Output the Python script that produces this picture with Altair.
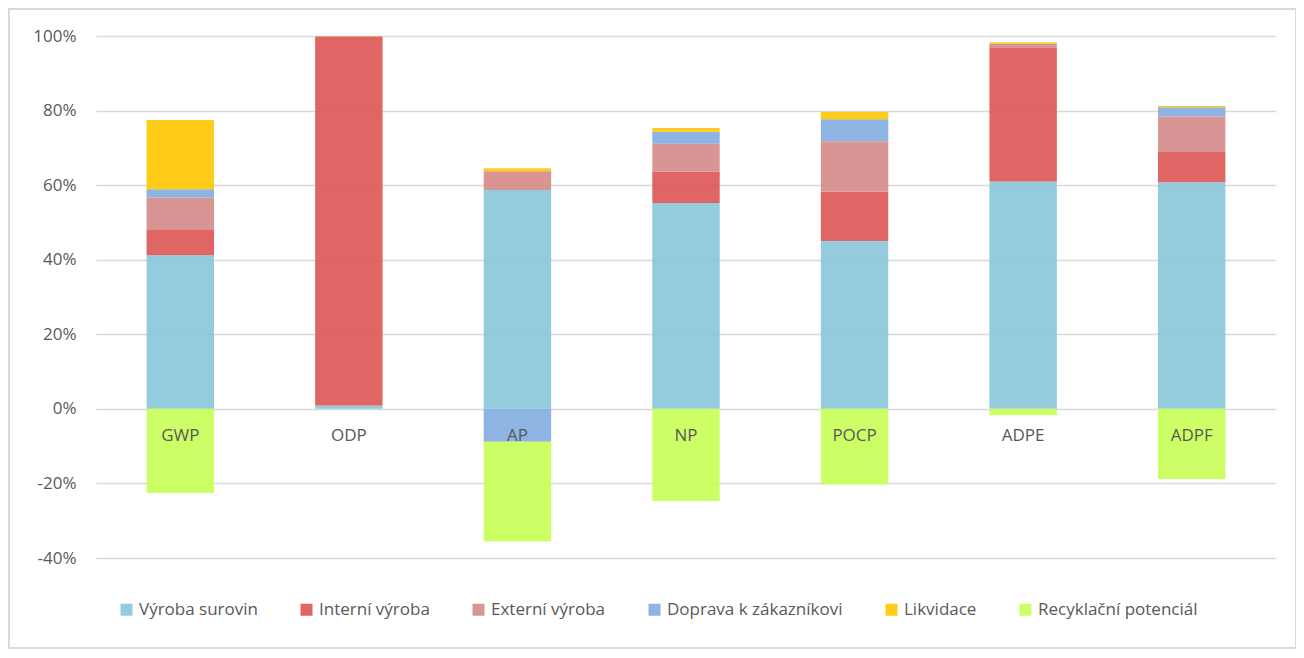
import altair as alt
import pandas as pd

categories = ["GWP", "ODP", "AP", "NP", "POCP", "ADPE", "ADPF"]
series = ["Výroba surovin", "Interní výroba", "Externí výroba",
          "Doprava k zákazníkovi", "Likvidace", "Recyklační potenciál"]
vyroba = [41.2, 0.9, 58.7, 55.2, 45.0, 61.0, 60.8]
interni = [7.0, 98.9, 0.0, 8.4, 13.2, 35.8, 8.1]
externi = [8.5, 0.1, 5.0, 7.5, 13.6, 1.2, 9.5]
doprava = [2.2, 0.0, -8.8, 3.2, 5.9, 0.0, 2.5]
likvidace = [18.6, 0.1, 0.8, 1.0, 1.9, 0.3, 0.3]
recykl = [-22.6, 0.0, -26.8, -24.7, -20.3, -1.7, -18.8]
colors = ["#88C7D9", "#DD5555", "#D58A88", "#81ACE0", "#FFC800", "#C6FF55"]

all_series = [vyroba, interni, externi, doprava, likvidace, recykl]
rows = []
for si, (name, vals) in enumerate(zip(series, all_series)):
    for cat, v in zip(categories, vals):
        rows.append({"cat": cat, "series": name, "idx": si, "value": v / 100.0})
df = pd.DataFrame(rows)
cat_df = pd.DataFrame({"cat": categories})

W, H = 1180, 522
FONT = "Open Sans"
GREY = "#595959"
FS = 17

xscale = alt.Scale(domain=categories, paddingInner=0.6, paddingOuter=0.3)
yscale = alt.Scale(domain=[-0.4, 1.0], nice=False)

bars = alt.Chart(df).mark_bar(opacity=0.9).encode(
    x=alt.X("cat:N", scale=xscale, axis=None, sort=categories),
    y=alt.Y("value:Q", stack="zero", scale=yscale,
            axis=alt.Axis(values=[-0.4, -0.2, 0, 0.2, 0.4, 0.6, 0.8, 1.0],
                          format=".0%", labelExpr="replace(datum.label, '\u2212', '-')",
                          title=None, domain=False, ticks=False,
                          labelPadding=20, labelFontSize=FS, labelColor=GREY,
                          labelFont=FONT, gridColor="#D9D9D9", gridWidth=1.5)),
    color=alt.Color("series:N",
                    scale=alt.Scale(domain=series, range=colors),
                    legend=alt.Legend(title=None, orient="none", direction="horizontal",
                                      columns=6, legendX=22, legendY=565,
                                      symbolType="square", symbolSize=144,
                                      symbolStrokeWidth=0, symbolOpacity=0.9,
                                      labelFontSize=FS, labelColor=GREY,
                                      labelFont=FONT, labelOffset=4, labelLimit=0,
                                      columnPadding=40)),
    order=alt.Order("idx:Q"),
)

labels = alt.Chart(cat_df).mark_text(
    fontSize=FS, color=GREY, font=FONT, baseline="middle", dy=27
).encode(
    x=alt.X("cat:N", scale=xscale, axis=None, sort=categories),
    y=alt.datum(0),
    text="cat:N",
)

frame = alt.Chart(alt.Data(values=[{}])).mark_rect(
    filled=False, stroke="#D9D9D9", strokeWidth=2
).encode(
    x=alt.value(-87), x2=alt.value(1200), y=alt.value(-27), y2=alt.value(612)
)

chart = alt.layer(bars, labels, frame).properties(
    width=W, height=H,
    autosize=alt.AutoSizeParams(type="none"),
    padding={"left": 88, "top": 28, "right": 20, "bottom": 92},
).configure_view(stroke=None)

chart.save("out.html", embed_options={"renderer": "svg", "actions": False})
